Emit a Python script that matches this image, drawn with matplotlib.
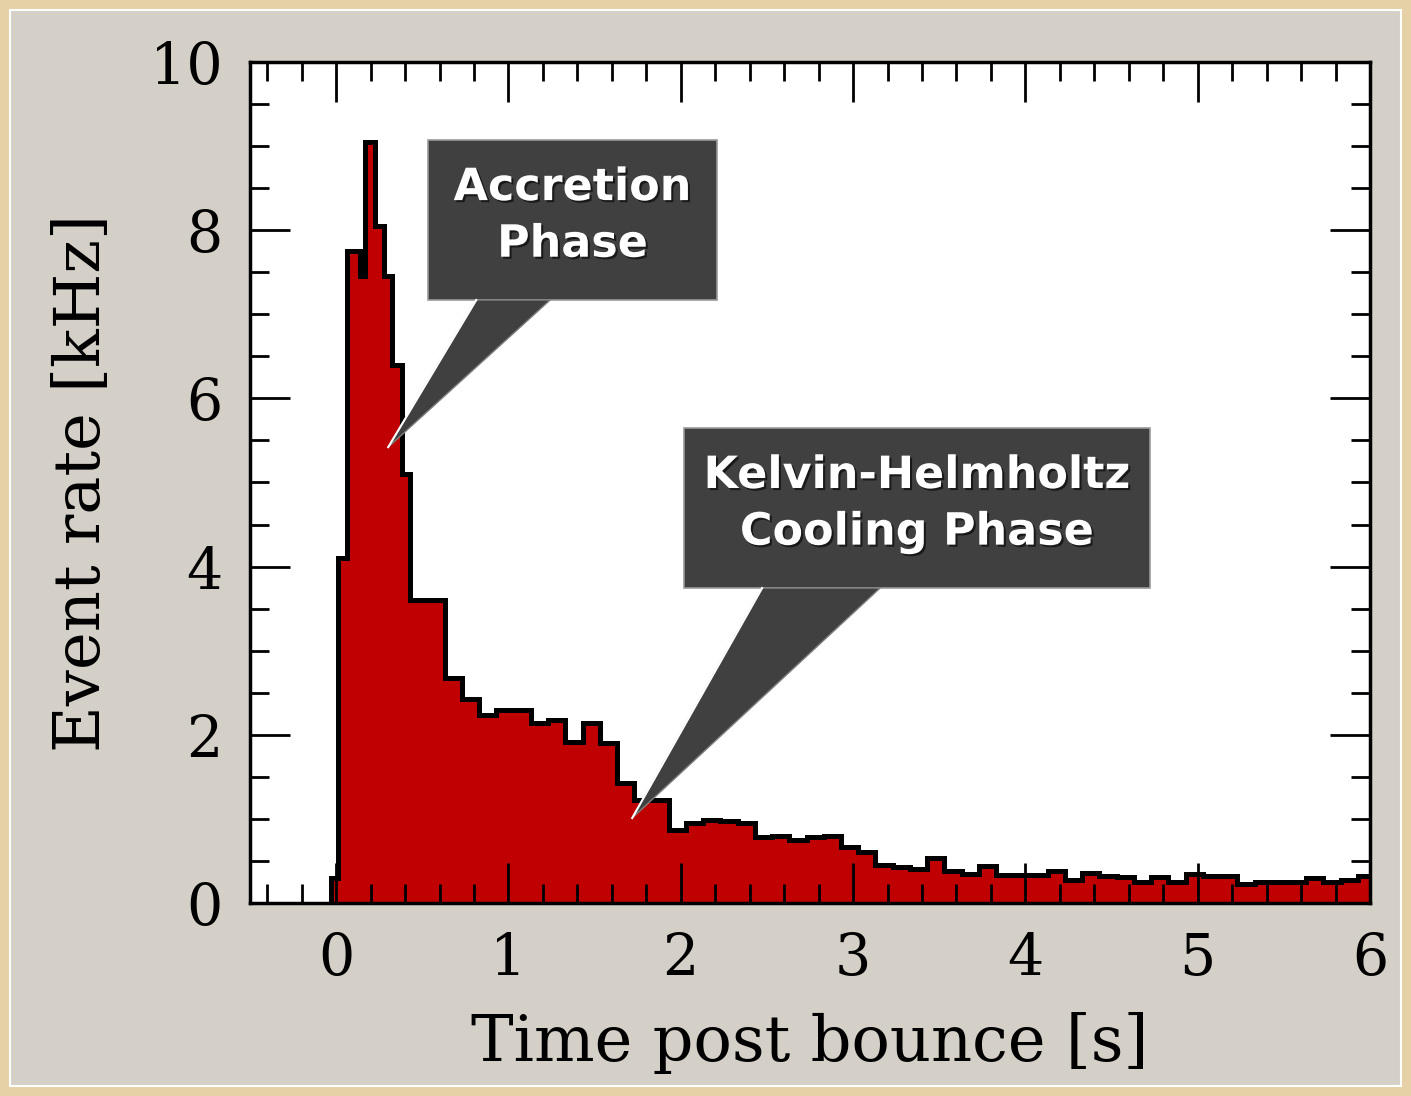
import numpy as np
import matplotlib.pyplot as plt
import matplotlib.patheffects as pe
from matplotlib.patches import Rectangle, Polygon

# histogram bin edges [s] and event rate [kHz]
edges = [-0.03, 0.01, 0.065, 0.14, 0.17, 0.225, 0.275, 0.325, 0.38, 0.43,
         0.63, 0.73, 0.83, 0.93, 1.13, 1.23, 1.33, 1.43, 1.53, 1.63,
         1.73, 1.93, 2.03, 2.13, 2.23, 2.33, 2.43, 2.53, 2.63, 2.73,
         2.83, 2.93, 3.03, 3.13, 3.23, 3.33, 3.43, 3.53, 3.63, 3.73,
         3.83, 3.93, 4.03, 4.13, 4.23, 4.33, 4.43, 4.53, 4.63, 4.73,
         4.83, 4.93, 5.03, 5.13, 5.23, 5.33, 5.43, 5.53, 5.63, 5.73,
         5.83, 5.93, 6.03]
rate = [0.3, 4.1, 7.75, 7.45, 9.05, 8.05, 7.45, 6.4, 5.1, 3.6,
        2.67, 2.43, 2.24, 2.29, 2.14, 2.18, 1.92, 2.14, 1.9, 1.43,
        1.23, 0.87, 0.95, 0.99, 0.98, 0.95, 0.78, 0.8, 0.75, 0.78,
        0.8, 0.66, 0.61, 0.45, 0.43, 0.4, 0.53, 0.38, 0.35, 0.44,
        0.33, 0.33, 0.33, 0.38, 0.27, 0.36, 0.32, 0.31, 0.25, 0.31,
        0.25, 0.34, 0.32, 0.32, 0.22, 0.25, 0.25, 0.25, 0.3, 0.25,
        0.27, 0.32]

x_ticks = [0, 1, 2, 3, 4, 5, 6]
y_ticks = [0, 2, 4, 6, 8, 10]

# callouts: text, box (x0, y0, x1, y1), tail base left/right and tip
callout_text = ['Accretion\nPhase', 'Kelvin-Helmholtz\nCooling Phase']
callout_box = [(0.534, 7.17, 2.211, 9.07), (2.02, 3.745, 4.724, 5.648)]
callout_tail = [[(0.813, 7.17), (1.242, 7.17), (0.302, 5.42)],
                [(2.472, 3.745), (3.157, 3.745), (1.718, 1.01)]]

plt.rcParams['font.family'] = 'DejaVu Serif'

fig = plt.figure(figsize=(14.11, 10.96), dpi=100, facecolor='#e6d1a6')
fig.patches.append(Rectangle((10 / 1411, 10 / 1096), 1391 / 1411, 1076 / 1096,
                             transform=fig.transFigure, facecolor='#d4d0c8',
                             edgecolor='white', linewidth=1.5, zorder=-10))

ax = fig.add_axes([250 / 1411, 1 - 903 / 1096, 1120 / 1411, 841 / 1096])
ax.set_zorder(5)
ax.set_facecolor('white')

ax.stairs(rate, edges, fill=True, color='#c00000', zorder=1)
ax.stairs(rate, edges, baseline=0, color='black', linewidth=3.6, zorder=1.5)

ax.set_xlim(-0.5, 6)
ax.set_ylim(0, 10)
ax.set_xticks(x_ticks)
ax.set_yticks(y_ticks)
ax.set_xticks(np.arange(-0.4, 6.01, 0.2), minor=True)
ax.set_yticks(np.arange(0, 10.01, 0.5), minor=True)
ax.tick_params(which='both', direction='in', top=True, right=True, width=2)
ax.tick_params(which='major', length=29, labelsize=41, pad=20)
ax.tick_params(which='minor', length=14)
for s in ax.spines.values():
    s.set_linewidth(2.5)

ax.set_xlabel('Time post bounce [s]', fontsize=46, labelpad=18)
ax.set_ylabel('Event rate [kHz]', fontsize=46, labelpad=26)

for txt, (x0, y0, x1, y1), tail in zip(callout_text, callout_box, callout_tail):
    ax.add_patch(Rectangle((x0, y0), x1 - x0, y1 - y0, facecolor='#404040',
                           edgecolor='#9a9a9a', linewidth=1.2, zorder=4))
    ax.add_patch(Polygon(tail, closed=True, facecolor='#404040',
                         edgecolor='#808080', linewidth=1, zorder=4))
    ax.plot([tail[0][0], tail[2][0]], [tail[0][1], tail[2][1]],
            color='white', linewidth=1.5, zorder=4.5)
    ax.text((x0 + x1) / 2, (y0 + y1) / 2 + 0.05, txt, color='white', fontsize=32,
            family='DejaVu Sans', fontweight='bold', ha='center', va='center',
            linespacing=1.4, zorder=5,
            path_effects=[pe.withSimplePatchShadow(offset=(1.5, -1.5),
                                                   shadow_rgbFace='black', alpha=0.6)])

fig.savefig('out.png', dpi=100, facecolor=fig.get_facecolor())
